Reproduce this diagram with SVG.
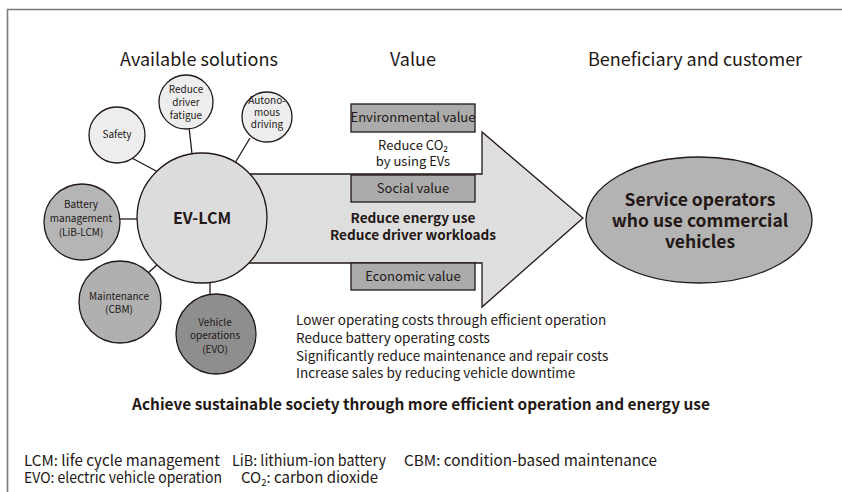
<svg xmlns="http://www.w3.org/2000/svg" width="842" height="492" viewBox="0 0 842 492">
  <style>
    text { font-family: "Noto Sans CJK JP", "Noto Sans", "Liberation Sans", sans-serif; fill: #231815; }
    .title { font-size: 18px; text-anchor: middle; }
    .small { font-size: 10px; text-anchor: middle; }
    .box { fill: #ababab; stroke: #231815; stroke-width: 1.3; }
    .boxtxt { font-size: 13px; text-anchor: middle; }
    .node { stroke: #231815; stroke-width: 1.3; }
    .link { stroke: #231815; stroke-width: 1.3; fill: none; }
    .list { font-size: 13.5px; }
    .note { font-size: 15px; }
    .big { font-size: 17.5px; font-weight: bold; text-anchor: middle; }
  </style>

  <!-- frame -->
  <path d="M7.5,492 V9.5 H842" fill="none" stroke="#7a7a7a" stroke-width="1.6"/>

  <!-- column headings -->
  <text class="title" x="199" y="66">Available solutions</text>
  <text class="title" x="413" y="66">Value</text>
  <text class="title" x="695" y="66">Beneficiary and customer</text>

  <!-- value arrow -->
  <g id="value-arrow">
    <polygon points="200,174 482,174 482,132 583,218 482,307 482,263 200,263" fill="#dedede" stroke="#231815" stroke-width="1.3"/>
    <text x="413" y="223" text-anchor="middle" font-size="13.6" font-weight="bold">Reduce energy use</text>
    <text x="413" y="240" text-anchor="middle" font-size="13.6" font-weight="bold">Reduce driver workloads</text>
  </g>

  <g id="environmental-value">
    <rect class="box" x="351" y="104" width="124" height="28"/>
    <text class="boxtxt" x="413" y="122" font-size="12.5">Environmental value</text>
    <text class="boxtxt" x="413" y="150">Reduce CO₂</text>
    <text class="boxtxt" x="413" y="166">by using EVs</text>
  </g>
  <g id="social-value">
    <rect class="box" x="351" y="175" width="124" height="27"/>
    <text class="boxtxt" x="413" y="193">Social value</text>
  </g>
  <g id="economic-value">
    <rect class="box" x="351" y="263" width="124" height="27"/>
    <text class="boxtxt" x="413" y="281">Economic value</text>
  </g>

  <!-- connectors -->
  <g id="connectors">
    <line class="link" x1="130" y1="157" x2="158" y2="172"/>
    <line class="link" x1="189" y1="127" x2="192" y2="154"/>
    <line class="link" x1="250" y1="138" x2="235" y2="163"/>
    <line class="link" x1="120" y1="219" x2="138" y2="219"/>
    <line class="link" x1="147" y1="274" x2="159" y2="263"/>
    <line class="link" x1="210" y1="282" x2="210" y2="295"/>
  </g>

  <g id="ev-lcm">
    <circle class="node" cx="202" cy="218" r="65" fill="#dcdcdc"/>
    <text x="202" y="224" text-anchor="middle" font-size="16" font-weight="bold">EV-LCM</text>
  </g>

  <g id="safety">
    <circle class="node" cx="117" cy="135" r="28" fill="#ededed"/>
    <text class="small" x="117" y="138">Safety</text>
  </g>

  <g id="reduce-driver-fatigue">
    <circle class="node" cx="186" cy="102" r="27" fill="#ededed"/>
    <text class="small" x="186" y="93">Reduce</text>
    <text class="small" x="186" y="106">driver</text>
    <text class="small" x="186" y="119">fatigue</text>
  </g>

  <g id="autonomous-driving">
    <circle class="node" cx="267" cy="117" r="25" fill="#ededed"/>
    <text class="small" x="267" y="104" font-size="9.5">Autono-</text>
    <text class="small" x="267" y="116" font-size="9.5">mous</text>
    <text class="small" x="267" y="128" font-size="9.5">driving</text>
  </g>

  <g id="battery-management">
    <circle class="node" cx="82" cy="222" r="38" fill="#b5b5b5"/>
    <text class="small" x="81" y="208">Battery</text>
    <text class="small" x="81" y="222">management</text>
    <text class="small" x="81" y="236">(LiB-LCM)</text>
  </g>

  <g id="maintenance">
    <circle class="node" cx="120" cy="302" r="41" fill="#b0b0b0"/>
    <text class="small" x="119" y="300">Maintenance</text>
    <text class="small" x="119" y="313">(CBM)</text>
  </g>

  <g id="vehicle-operations">
    <circle class="node" cx="216" cy="334" r="40" fill="#8e8e8e"/>
    <text class="small" x="215" y="326">Vehicle</text>
    <text class="small" x="215" y="339">operations</text>
    <text class="small" x="215" y="353">(EVO)</text>
  </g>

  <g id="service-operators">
    <ellipse class="node" cx="699" cy="220" rx="113" ry="63" fill="#b3b3b3"/>
    <text class="big" x="700" y="206">Service operators</text>
    <text class="big" x="700" y="227">who use commercial</text>
    <text class="big" x="700" y="248">vehicles</text>
  </g>

  <!-- economic benefits -->
  <g id="economic-benefits">
    <text class="list" x="296" y="325">Lower operating costs through efficient operation</text>
    <text class="list" x="296" y="343">Reduce battery operating costs</text>
    <text class="list" x="296" y="361">Significantly reduce maintenance and repair costs</text>
    <text class="list" x="296" y="378">Increase sales by reducing vehicle downtime</text>
  </g>

  <text x="421" y="410" text-anchor="middle" font-size="15.4" font-weight="bold">Achieve sustainable society through more efficient operation and energy use</text>

  <!-- abbreviations (condensed setting) -->
  <g id="abbreviations">
    <text class="note" x="24" y="466" textLength="196" lengthAdjust="spacingAndGlyphs">LCM: life cycle management</text>
    <text class="note" x="232" y="466" textLength="154" lengthAdjust="spacingAndGlyphs">LiB: lithium-ion battery</text>
    <text class="note" x="404" y="466" textLength="253" lengthAdjust="spacingAndGlyphs">CBM: condition-based maintenance</text>
    <text class="note" x="24" y="483" textLength="198" lengthAdjust="spacingAndGlyphs">EVO: electric vehicle operation</text>
    <text class="note" x="241" y="483">CO<tspan font-size="9.5" dy="3">2</tspan><tspan dy="-3">: carbon dioxide</tspan></text>
  </g>
</svg>
